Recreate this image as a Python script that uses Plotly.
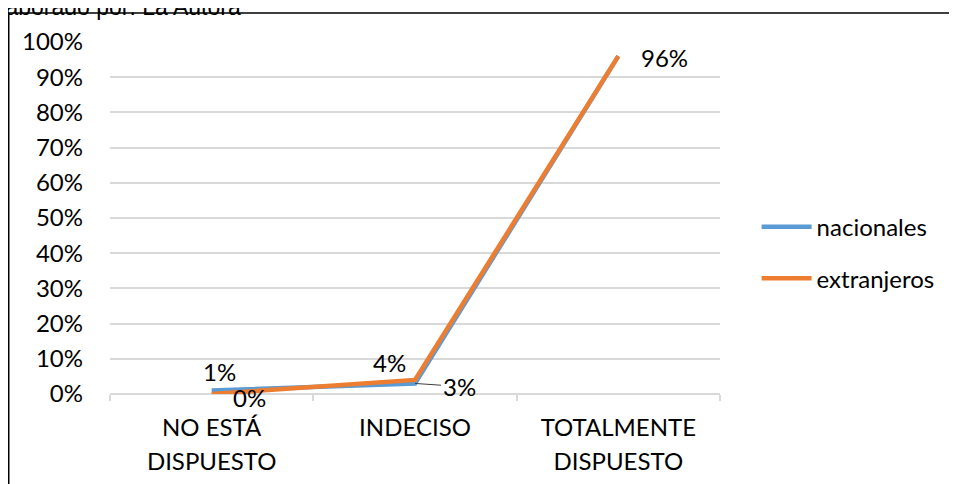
import plotly.graph_objects as go

# Data
categorias_l1 = ['NO ESTÁ', 'INDECISO', 'TOTALMENTE']
categorias_l2 = ['DISPUESTO', '', 'DISPUESTO']
nacionales = [0.01, 0.03, 0.96]
extranjeros = [0.00, 0.04, 0.96]
y_ticks = [0, 0.1, 0.2, 0.3, 0.4, 0.5, 0.6, 0.7, 0.8, 0.9, 1.0]

FONT = 'Lato'
FS = 24
BLUE = '#5B9BD5'
ORANGE = '#ED7D31'
xs = list(range(len(categorias_l1)))

fig = go.Figure()

fig.add_trace(go.Scatter(
    x=xs, y=nacionales, mode='lines', name='nacionales',
    line=dict(color=BLUE, width=4.5), legend='legend'
))
fig.add_trace(go.Scatter(
    x=xs, y=extranjeros, mode='lines', name='extranjeros',
    line=dict(color=ORANGE, width=4.5), legend='legend2'
))

# Data labels: (series, index, dx, dy, leader line)
labels = [
    (nacionales, 0, 8, -19, False),
    (extranjeros, 0, 38, 3, False),
    (extranjeros, 1, -26, -17, False),
    (nacionales, 1, 44, 3, True),
    (extranjeros, 2, 46, 1, False),
]
for serie, i, dx, dy, leader in labels:
    fig.add_annotation(
        x=xs[i], y=serie[i], xref='x', yref='y',
        text=f'{serie[i] * 100:.0f}%',
        showarrow=True, arrowhead=0, ax=dx, ay=dy,
        arrowwidth=1, standoff=0,
        arrowcolor='#404040' if leader else 'rgba(0,0,0,0)',
        font=dict(family=FONT, size=FS, color='#000000')
    )

# Source note, cut off at the top-left like the original
fig.add_annotation(
    text='Elaborado por: La Autora', xref='paper', yref='paper',
    x=0.218, y=1.057, xanchor='right', yanchor='bottom', showarrow=False,
    font=dict(family='Liberation Sans', size=23, color='#000000')
)

# Chart frame
fig.add_shape(
    type='rect', xref='paper', yref='paper',
    x0=-0.166, x1=1.5, y0=-0.4, y1=1.0824,
    line=dict(color='#000000', width=1.5), fillcolor='rgba(0,0,0,0)'
)

fig.update_layout(
    width=957, height=484,
    margin=dict(l=102, r=245, t=34, b=98),
    plot_bgcolor='white', paper_bgcolor='white',
    font=dict(family=FONT, size=FS, color='#000000'),
    xaxis=dict(
        range=[-0.5, 2.5], tickvals=xs, ticktext=categorias_l1,
        showgrid=False, zeroline=False, showline=False,
        ticks='', ticklabelstandoff=17,
        tickfont=dict(family=FONT, size=FS),
        minor=dict(tickvals=[-0.5, 0.5, 1.5, 2.5], ticks='outside',
                   ticklen=6, tickcolor='#D9D9D9', tickwidth=1.5, showgrid=False)
    ),
    xaxis2=dict(
        overlaying='x', matches='x', side='bottom',
        tickvals=xs, ticktext=categorias_l2,
        showgrid=False, zeroline=False, showline=False, ticks='',
        ticklabelstandoff=51, tickfont=dict(family=FONT, size=FS)
    ),
    yaxis=dict(
        range=[0, 1.0], tickvals=y_ticks, tickformat='.0%',
        showgrid=True, gridcolor='#D9D9D9', gridwidth=1.5,
        zeroline=True, zerolinecolor='#D9D9D9', zerolinewidth=1.5,
        showline=False, ticks='', ticklabelstandoff=26,
        tickfont=dict(family=FONT, size=FS)
    ),
    legend=dict(
        x=1.06, y=0.474, xanchor='left', yanchor='middle',
        font=dict(family=FONT, size=FS), itemwidth=50,
        bgcolor='rgba(0,0,0,0)'
    ),
    legend2=dict(
        x=1.06, y=0.328, xanchor='left', yanchor='middle',
        font=dict(family=FONT, size=FS), itemwidth=50,
        bgcolor='rgba(0,0,0,0)'
    ),
    showlegend=True
)

# empty trace so the second (label) axis is drawn
fig.add_trace(go.Scatter(x=[None], y=[None], xaxis='x2', showlegend=False))

fig.write_html('out.html')
